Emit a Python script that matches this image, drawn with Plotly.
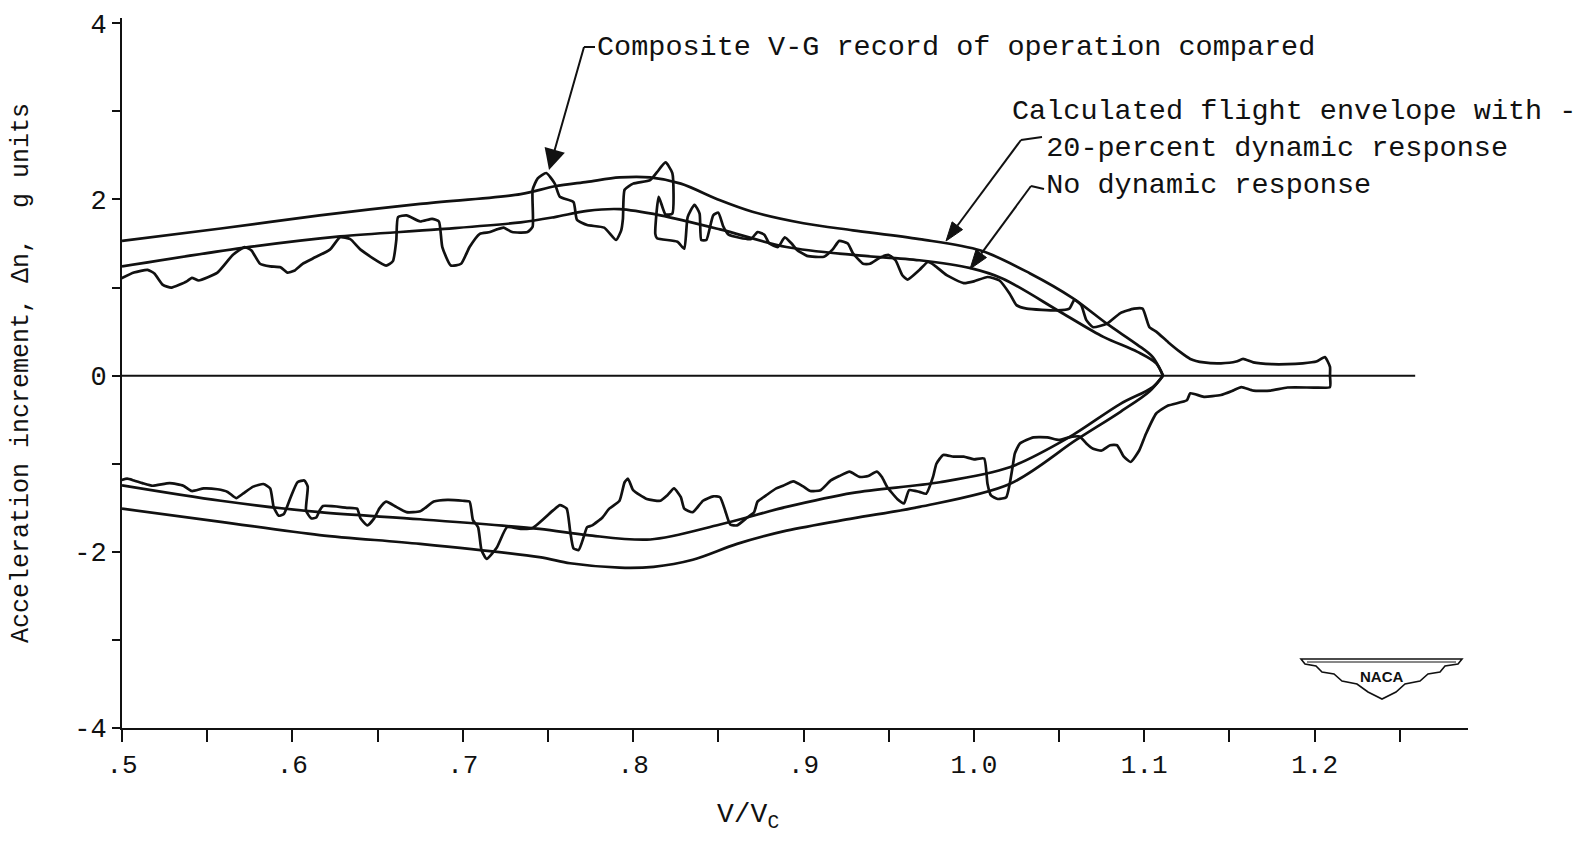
import math
import plotly.graph_objects as go

# ---------------- data ----------------
# Calculated flight envelope, 20-percent dynamic response (upper branch)
env20_up_x = [0.500, 0.558, 0.616, 0.675, 0.734, 0.754, 0.773, 0.792, 0.810, 0.828, 0.851, 0.870,
              0.900, 0.929, 0.968, 1.004, 1.033, 1.058, 1.078, 1.096, 1.105, 1.111]
env20_up_y = [1.53, 1.67, 1.82, 1.95, 2.06, 2.15, 2.20, 2.25, 2.25, 2.18, 1.99, 1.86,
              1.73, 1.65, 1.55, 1.42, 1.16, 0.88, 0.59, 0.35, 0.21, 0.00]
# No dynamic response (upper branch)
env0_up_x = [0.500, 0.571, 0.628, 0.685, 0.734, 0.754, 0.773, 0.792, 0.816, 0.851, 0.890,
             0.929, 0.968, 0.998, 1.017, 1.051, 1.076, 1.096, 1.107, 1.111]
env0_up_y = [1.24, 1.45, 1.58, 1.66, 1.74, 1.80, 1.87, 1.89, 1.82, 1.66, 1.46,
             1.37, 1.31, 1.22, 1.10, 0.72, 0.44, 0.27, 0.14, 0.00]
# No dynamic response (lower branch)
env0_lo_x = [0.500, 0.558, 0.616, 0.675, 0.745, 0.773, 0.810, 0.851, 0.890, 0.929, 0.980,
             1.021, 1.055, 1.086, 1.105, 1.111]
env0_lo_y = [-1.245, -1.42, -1.55, -1.63, -1.74, -1.81, -1.86, -1.69, -1.49, -1.33, -1.21,
             -1.04, -0.71, -0.32, -0.13, 0.00]
# 20-percent dynamic response (lower branch)
env20_lo_x = [0.500, 0.558, 0.616, 0.675, 0.745, 0.763, 0.792, 0.812, 0.835, 0.861, 0.890,
              0.929, 0.968, 1.021, 1.060, 1.086, 1.103, 1.111]
env20_lo_y = [-1.51, -1.66, -1.81, -1.91, -2.06, -2.13, -2.18, -2.17, -2.09, -1.91, -1.76,
              -1.62, -1.49, -1.23, -0.73, -0.41, -0.18, 0.00]

# Composite V-G record (upper trace, left to right)
rec_up_x = [0.499, 0.507, 0.515, 0.519, 0.524, 0.529, 0.538, 0.541, 0.545, 0.556, 0.565, 0.572,
            0.576, 0.581, 0.587, 0.593, 0.597, 0.601, 0.606, 0.612, 0.622, 0.628, 0.634, 0.640,
            0.655, 0.659, 0.661, 0.662, 0.667, 0.675, 0.682, 0.686, 0.688, 0.693, 0.699, 0.704,
            0.710, 0.716, 0.720, 0.724, 0.729, 0.738, 0.741, 0.741, 0.744, 0.749, 0.754, 0.757,
            0.765, 0.767, 0.773, 0.783, 0.790, 0.793, 0.794, 0.795, 0.800, 0.810, 0.814, 0.819,
            0.823, 0.823, 0.819, 0.815, 0.813, 0.814, 0.826, 0.830, 0.832, 0.836, 0.839, 0.840,
            0.843, 0.847, 0.850, 0.853, 0.856, 0.869, 0.873, 0.877, 0.880, 0.885, 0.889, 0.893,
            0.896, 0.902, 0.912, 0.917, 0.921, 0.926, 0.929, 0.935, 0.939, 0.945, 0.950, 0.954,
            0.958, 0.961, 0.968, 0.973, 0.977, 0.984, 0.994, 1.000, 1.008, 1.015, 1.021, 1.025,
            1.031, 1.049, 1.056, 1.059, 1.063, 1.066, 1.070, 1.078, 1.086, 1.094, 1.099, 1.103,
            1.107, 1.114, 1.121, 1.127, 1.135, 1.145, 1.154, 1.158, 1.164, 1.175, 1.184, 1.193,
            1.201, 1.206, 1.209, 1.209]
rec_up_y = [1.10, 1.17, 1.20, 1.16, 1.03, 1.00, 1.07, 1.11, 1.08, 1.17, 1.37, 1.46,
            1.42, 1.27, 1.24, 1.23, 1.17, 1.19, 1.27, 1.33, 1.43, 1.57, 1.55, 1.43,
            1.25, 1.30, 1.54, 1.80, 1.82, 1.75, 1.78, 1.75, 1.46, 1.25, 1.27, 1.46,
            1.61, 1.63, 1.66, 1.68, 1.63, 1.63, 1.69, 2.11, 2.24, 2.30, 2.18, 2.03,
            1.97, 1.77, 1.71, 1.68, 1.54, 1.65, 1.78, 2.11, 2.18, 2.22, 2.31, 2.42,
            2.30, 1.84, 1.83, 2.03, 1.61, 1.56, 1.52, 1.44, 1.80, 1.94, 1.84, 1.54,
            1.54, 1.82, 1.85, 1.69, 1.60, 1.55, 1.63, 1.60, 1.50, 1.46, 1.57, 1.50,
            1.43, 1.36, 1.35, 1.43, 1.53, 1.50, 1.39, 1.27, 1.27, 1.34, 1.37, 1.31,
            1.14, 1.09, 1.20, 1.29, 1.25, 1.14, 1.05, 1.07, 1.12, 1.08, 0.93, 0.80,
            0.76, 0.74, 0.76, 0.86, 0.80, 0.63, 0.55, 0.59, 0.71, 0.76, 0.76, 0.55,
            0.50, 0.38, 0.27, 0.19, 0.15, 0.14, 0.16, 0.19, 0.15, 0.13, 0.13, 0.14,
            0.16, 0.21, 0.10, 0.00]
# Composite V-G record (lower trace, right to left)
rec_lo_x = [1.209, 1.200, 1.184, 1.174, 1.164, 1.157, 1.152, 1.145, 1.135, 1.127, 1.125, 1.114,
            1.107, 1.101, 1.097, 1.092, 1.088, 1.084, 1.080, 1.075, 1.070, 1.066, 1.062, 1.056,
            1.050, 1.043, 1.035, 1.027, 1.024, 1.023, 1.021, 1.019, 1.014, 1.010, 1.008, 1.006,
            1.000, 0.994, 0.988, 0.982, 0.978, 0.976, 0.972, 0.968, 0.962, 0.959, 0.955, 0.949,
            0.946, 0.943, 0.938, 0.933, 0.927, 0.921, 0.916, 0.910, 0.904, 0.900, 0.894, 0.888,
            0.884, 0.878, 0.873, 0.871, 0.867, 0.861, 0.857, 0.854, 0.851, 0.847, 0.841, 0.835,
            0.830, 0.828, 0.824, 0.820, 0.816, 0.808, 0.800, 0.797, 0.795, 0.792, 0.786, 0.782,
            0.776, 0.773, 0.771, 0.768, 0.765, 0.763, 0.761, 0.757, 0.753, 0.741, 0.734, 0.726,
            0.720, 0.714, 0.711, 0.709, 0.706, 0.704, 0.700, 0.691, 0.683, 0.675, 0.667, 0.661,
            0.655, 0.651, 0.648, 0.644, 0.640, 0.638, 0.632, 0.618, 0.616, 0.614, 0.611, 0.608,
            0.609, 0.607, 0.603, 0.599, 0.595, 0.592, 0.589, 0.587, 0.583, 0.577, 0.571, 0.567,
            0.562, 0.556, 0.548, 0.541, 0.536, 0.528, 0.518, 0.512, 0.507, 0.503, 0.499]
rec_lo_y = [-0.13, -0.135, -0.135, -0.17, -0.17, -0.13, -0.17, -0.22, -0.24, -0.20, -0.28, -0.34,
            -0.43, -0.66, -0.85, -0.98, -0.92, -0.79, -0.79, -0.85, -0.83, -0.77, -0.69, -0.70,
            -0.73, -0.70, -0.70, -0.77, -0.885, -1.00, -1.23, -1.38, -1.40, -1.36, -1.23, -0.94,
            -0.95, -0.92, -0.92, -0.90, -1.00, -1.15, -1.34, -1.32, -1.30, -1.45, -1.40, -1.26,
            -1.15, -1.09, -1.14, -1.15, -1.09, -1.14, -1.19, -1.30, -1.31, -1.26, -1.20, -1.25,
            -1.28, -1.36, -1.43, -1.55, -1.61, -1.70, -1.69, -1.53, -1.38, -1.37, -1.42, -1.55,
            -1.51, -1.38, -1.28, -1.36, -1.42, -1.40, -1.30, -1.17, -1.21, -1.42, -1.51, -1.61,
            -1.70, -1.72, -1.83, -1.98, -1.96, -1.76, -1.51, -1.47, -1.53, -1.73, -1.74, -1.72,
            -1.95, -2.08, -1.98, -1.72, -1.64, -1.43, -1.42, -1.41, -1.43, -1.54, -1.55, -1.49,
            -1.43, -1.51, -1.62, -1.70, -1.62, -1.51, -1.50, -1.48, -1.53, -1.61, -1.62, -1.53,
            -1.26, -1.19, -1.21, -1.38, -1.57, -1.59, -1.49, -1.28, -1.23, -1.26, -1.34, -1.39,
            -1.32, -1.29, -1.28, -1.31, -1.25, -1.22, -1.25, -1.22, -1.19, -1.17, -1.19]

zero_line_x = [0.5, 1.259]
zero_line_y = [0.0, 0.0]

x_tick_vals = [0.5, 0.6, 0.7, 0.8, 0.9, 1.0, 1.1, 1.2]
x_tick_text = [".5", ".6", ".7", ".8", ".9", "1.0", "1.1", "1.2"]
y_tick_vals = [-4, -2, 0, 2, 4]
y_tick_text = ["-4", "-2", "0", "2", "4"]

# ---------------- layout geometry ----------------
W, H = 1591, 848
ML, MR, MT, MB = 122, 123, 18, 120
X_RANGE = [0.5, 1.29]
Y_RANGE = [-4.0, 4.06]
PW, PH = W - ML - MR, H - MT - MB
def X(px):
    return X_RANGE[0] + (px - ML) / PW * (X_RANGE[1] - X_RANGE[0])
def Y(py):
    return Y_RANGE[1] - (py - MT) / PH * (Y_RANGE[1] - Y_RANGE[0])
def PX(px):
    return (px - ML) / PW
def PY(py):
    return (H - MB - py) / PH

FONT = "Liberation Mono, Courier New, monospace"
INK = "#111111"
LW = 2.7
NB = "\u00a0"

fig = go.Figure()
line = dict(color=INK, width=LW, shape="spline", smoothing=0.9)
for xs, ys in [(env20_up_x, env20_up_y), (env0_up_x, env0_up_y),
               (env0_lo_x, env0_lo_y), (env20_lo_x, env20_lo_y)]:
    fig.add_trace(go.Scatter(x=xs, y=ys, mode="lines", line=line, hoverinfo="skip"))

fig.add_trace(go.Scatter(x=rec_up_x + rec_lo_x, y=rec_up_y + rec_lo_y, mode="lines",
                         line=dict(color=INK, width=LW, shape="spline", smoothing=0.5),
                         hoverinfo="skip"))
fig.add_trace(go.Scatter(x=zero_line_x, y=zero_line_y, mode="lines",
                         line=dict(color=INK, width=2), hoverinfo="skip"))

annos = []
shapes = []
txt = dict(family=FONT, size=28.5, color=INK)
arrow_style = dict(showarrow=True, arrowhead=2, arrowsize=2.1, arrowwidth=2, arrowcolor=INK,
                   xref="x", yref="y", axref="pixel", ayref="pixel")
# composite record label, attached to its arrow (tail at the left-middle of the text box)
tip, tail = (549, 170), (584, 47)
annos.append(dict(arrow_style, text="Composite V-G record of operation compared",
                  x=X(tip[0]), y=Y(tip[1]), ax=tail[0] - tip[0], ay=tail[1] - tip[1],
                  xanchor="left", yanchor="middle", borderpad=12, font=txt))
# envelope label block
annos.append(dict(x=X(1010), y=Y(148), xref="x", yref="y",
                  text=("Calculated flight envelope with -<br>" + NB * 2 + "20-percent dynamic response<br>"
                        + NB * 2 + "No dynamic response"),
                  showarrow=False, xanchor="left", yanchor="middle", align="left", font=txt))

# envelope arrows drawn as shapes (shaft + filled head)
def arrow_shapes(tip, tail, head_len=19, head_half=6.5):
    dx, dy = tip[0] - tail[0], tip[1] - tail[1]
    L = math.hypot(dx, dy)
    ux, uy = dx / L, dy / L
    bx, by = tip[0] - ux * head_len, tip[1] - uy * head_len
    nx, ny = -uy, ux
    p1 = (bx + nx * head_half, by + ny * head_half)
    p2 = (bx - nx * head_half, by - ny * head_half)
    out = [dict(type="line", xref="x", yref="y", x0=X(tail[0]), y0=Y(tail[1]),
                x1=X(bx), y1=Y(by), line=dict(color=INK, width=2))]
    pts = [tip, p1, p2]
    path = "M " + " L ".join(f"{X(a):.6f},{Y(b):.6f}" for a, b in pts) + " Z"
    out.append(dict(type="path", xref="x", yref="y", path=path, fillcolor=INK,
                    line=dict(color=INK, width=1)))
    return out

for tip, tail in [((946, 241), (1021, 140)), ((970, 269), (1031, 186))]:
    shapes.extend(arrow_shapes(tip, tail))

# x-axis title (placed off-centre as in the reference)
annos.append(dict(x=PX(748), y=PY(797), xref="paper", yref="paper", text="V/V<sub>C</sub>",
                  showarrow=False, xanchor="center", yanchor="top",
                  font=dict(family=FONT, size=28, color=INK)))
# NACA emblem text
annos.append(dict(x=X(1381), y=Y(676), xref="x", yref="y", text="<b>NACA</b>", showarrow=False,
                  xanchor="center", yanchor="middle",
                  font=dict(family="Liberation Sans, Arial, sans-serif", size=15, color=INK)))

# leader hooks
for (x0, y0, x1, y1) in [(584, 47, 595, 47), (1021, 140, 1042, 137), (1031, 186, 1044, 189)]:
    shapes.append(dict(type="line", xref="x", yref="y", x0=X(x0), y0=Y(y0), x1=X(x1), y1=Y(y1),
                       line=dict(color=INK, width=2)))
# NACA wing emblem outline
wing = [(1301, 659), (1462, 659), (1458, 664), (1445, 666), (1440, 672), (1428, 674), (1420, 681),
        (1405, 684), (1396, 692), (1382, 699), (1368, 692), (1357, 684), (1342, 681), (1334, 674),
        (1322, 672), (1316, 666), (1305, 664)]
path = "M " + " L ".join(f"{X(a):.5f},{Y(b):.5f}" for a, b in wing) + " Z"
shapes.append(dict(type="path", xref="x", yref="y", path=path, line=dict(color=INK, width=1.6)))
shapes.append(dict(type="line", xref="x", yref="y", x0=X(1307), y0=Y(662), x1=X(1456), y1=Y(662),
                   line=dict(color=INK, width=1)))

fig.update_layout(
    width=W, height=H, margin=dict(l=ML, r=MR, t=MT, b=MB),
    paper_bgcolor="white", plot_bgcolor="white", showlegend=False,
    annotations=annos, shapes=shapes,
    font=dict(family=FONT, color=INK),
)
fig.update_xaxes(range=X_RANGE, showgrid=False, zeroline=False, showline=True, linecolor=INK,
                 linewidth=2, ticks="outside", ticklen=12, tickwidth=2, tickcolor=INK,
                 tickvals=x_tick_vals, ticktext=x_tick_text,
                 tickfont=dict(family=FONT, size=26, color=INK),
                 minor=dict(dtick=0.05, tick0=0.5, ticks="outside", ticklen=12, tickwidth=2,
                            tickcolor=INK, showgrid=False))
fig.update_yaxes(range=Y_RANGE, showgrid=False, zeroline=False, showline=True, linecolor=INK,
                 linewidth=2, ticks="outside", ticklen=8, tickwidth=2, tickcolor=INK,
                 tickvals=y_tick_vals, ticktext=y_tick_text,
                 tickfont=dict(family=FONT, size=27, color=INK),
                 title=dict(text="Acceleration increment, \u0394n,  g units", standoff=38,
                            font=dict(family=FONT, size=25, color=INK)),
                 automargin=False,
                 minor=dict(dtick=1, tick0=0, ticks="outside", ticklen=8, tickwidth=2,
                            tickcolor=INK, showgrid=False))

fig.write_html("out.html")
